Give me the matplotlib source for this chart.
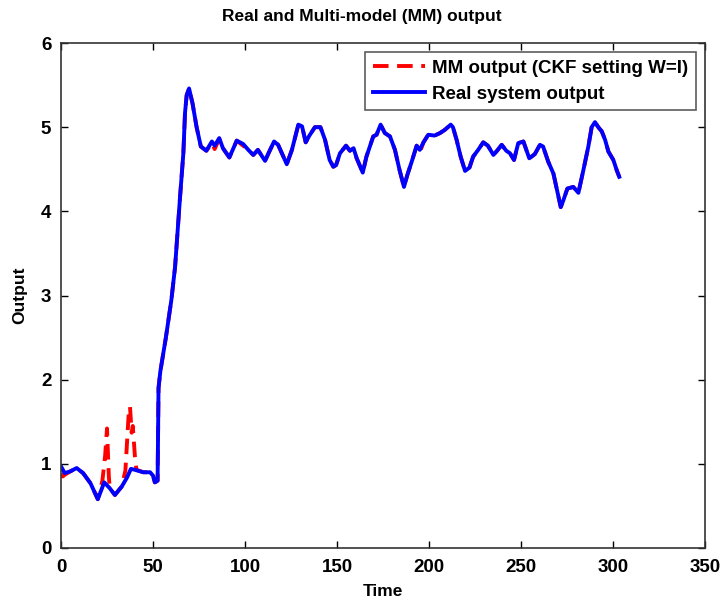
import matplotlib
matplotlib.use("Agg")
import matplotlib.pyplot as plt

# ---- data ----
real_t = [0, 1, 2, 5, 8.5, 12, 16, 20, 23.5, 26.5, 29.3, 33, 35.7, 38, 40, 44.7, 48.4, 50, 51, 52.5,
          53, 54, 57, 60, 62, 64.7, 66.5, 67.4, 68.3, 69.6, 71.5, 73.7, 76, 79, 82, 83.5, 86, 88,
          91.5, 95.5, 99, 101.8, 104.5, 107, 110.9, 113, 115.8, 118, 122.7, 125.5, 129, 131, 133,
          135, 138, 141, 143.5, 146, 148, 149.5, 151.6, 154.9, 157, 159, 160.7, 164, 166, 169.7,
          171.5, 173.7, 176, 178.8, 181.5, 184, 186.4, 188.2, 190.6, 193.3, 195, 197, 199.6, 203,
          206, 208.7, 211.8, 213, 215, 217.2, 219.6, 222, 224, 226.7, 229.5, 232, 235, 237, 239.5,
          242, 244, 246.2, 248.5, 251.3, 254.5, 257.5, 260.3, 262, 264.8, 267.6, 269.4, 271.6,
          273, 275.2, 278.4, 281.2, 283.9, 286.6, 288.4, 290.2, 292, 293.9, 295.7, 297.5, 300.2,
          302, 303.4]
real_y = [0.97, 0.93, 0.89, 0.91, 0.95, 0.89, 0.77, 0.58, 0.78, 0.71, 0.63, 0.73, 0.83, 0.94, 0.93,
          0.90, 0.90, 0.86, 0.78, 0.80,
          1.90, 2.10, 2.50, 2.95, 3.34, 4.17, 4.69, 5.17, 5.38, 5.46, 5.28, 5.00, 4.77, 4.72, 4.83,
          4.78, 4.87, 4.75, 4.64, 4.84, 4.80, 4.73, 4.67, 4.73, 4.60, 4.70, 4.83, 4.79, 4.56, 4.73,
          5.03, 5.01, 4.82, 4.90, 5.00, 5.00, 4.85, 4.61, 4.53, 4.55, 4.69, 4.78, 4.72, 4.75, 4.63,
          4.46, 4.65, 4.89, 4.91, 5.03, 4.93, 4.89, 4.73, 4.49, 4.29, 4.43, 4.59, 4.78, 4.73, 4.82,
          4.91, 4.90, 4.93, 4.97, 5.03, 5.00, 4.85, 4.65, 4.48, 4.52, 4.65, 4.73, 4.82, 4.78, 4.67,
          4.72, 4.79, 4.72, 4.69, 4.61, 4.81, 4.83, 4.63, 4.68, 4.79, 4.77, 4.59, 4.45, 4.27, 4.05,
          4.13, 4.27, 4.29, 4.22, 4.49, 4.77, 5.00, 5.06, 5.00, 4.95, 4.85, 4.71, 4.61, 4.49, 4.41]

mm_t = [0, 1, 2, 5, 8.5, 12, 16, 20, 22.5, 24, 25, 26, 26.5, 29.3, 33, 35, 36.8, 37.5, 38.4, 39,
        40.2, 41, 44.7, 48.4, 50, 51, 52.5,
        53, 54, 57, 60, 62, 64.7, 66.5, 67.4, 68.3, 69.6, 71.5, 73.7, 76, 79, 82, 83.5, 86, 88,
        91.5, 95.5, 99, 101.8, 104.5, 107, 110.9, 113, 115.8, 118, 122.7, 125.5, 129, 131, 133,
        135, 138, 141, 143.5, 146, 148, 149.5, 151.6, 154.9, 157, 159, 160.7, 164, 166, 169.7,
        171.5, 173.7, 176, 178.8, 181.5, 184, 186.4, 188.2, 190.6, 193.3, 195, 197, 199.6, 203,
        206, 208.7, 211.8, 213, 215, 217.2, 219.6, 222, 224, 226.7, 229.5, 232, 235, 237, 239.5,
        242, 244, 246.2, 248.5, 251.3, 254.5, 257.5, 260.3, 262, 264.8, 267.6, 269.4, 271.6,
        273, 275.2, 278.4, 281.2, 283.9, 286.6, 288.4, 290.2, 292, 293.9, 295.7, 297.5, 300.2,
        302, 303.4]
mm_y = [0.88, 0.85, 0.87, 0.91, 0.95, 0.89, 0.77, 0.58, 0.80, 1.10, 1.42, 0.85, 0.71, 0.63, 0.73,
        0.92, 1.60, 1.68, 1.37, 1.45, 1.08, 0.93, 0.90, 0.90, 0.86, 0.78, 0.80,
        1.90, 2.10, 2.50, 2.95, 3.34, 4.17, 4.69, 5.17, 5.38, 5.46, 5.28, 5.00, 4.77, 4.72, 4.81,
        4.74, 4.86, 4.75, 4.64, 4.84, 4.78, 4.73, 4.67, 4.73, 4.60, 4.70, 4.83, 4.79, 4.56, 4.73,
        5.03, 5.01, 4.82, 4.90, 5.00, 5.00, 4.85, 4.61, 4.53, 4.55, 4.69, 4.78, 4.72, 4.75, 4.63,
        4.46, 4.65, 4.89, 4.91, 5.03, 4.93, 4.89, 4.73, 4.49, 4.29, 4.43, 4.59, 4.78, 4.70, 4.82,
        4.91, 4.90, 4.93, 4.97, 5.03, 5.00, 4.85, 4.65, 4.48, 4.52, 4.65, 4.73, 4.82, 4.78, 4.67,
        4.72, 4.79, 4.72, 4.69, 4.61, 4.81, 4.83, 4.63, 4.68, 4.79, 4.77, 4.59, 4.45, 4.27, 4.05,
        4.13, 4.27, 4.29, 4.22, 4.49, 4.77, 5.00, 5.06, 5.00, 4.95, 4.85, 4.71, 4.61, 4.49, 4.41]

x_ticks = [0, 50, 100, 150, 200, 250, 300, 350]
y_ticks = [0, 1, 2, 3, 4, 5, 6]
title = "Real and Multi-model (MM) output"
xlabel = "Time"
ylabel = "Output"
labels = ["MM output (CKF setting W=I)", "Real system output"]

# ---- style ----
plt.rcParams["font.family"] = ["Liberation Sans", "DejaVu Sans"]
plt.rcParams["font.weight"] = "bold"

fig = plt.figure(figsize=(7.21, 6.02), dpi=100)
ax = fig.add_axes([61 / 721, 1 - 548 / 602, 644 / 721, 505 / 602])

ax.plot(mm_t, mm_y, color="#ff0000", linestyle=(0, (4, 2.2)), linewidth=2.8, label=labels[0])
ax.plot(real_t, real_y, color="#0000ff", linewidth=2.8, label=labels[1])

ax.set_xlim(0, 350)
ax.set_ylim(0, 6)
ax.set_xticks(x_ticks)
ax.set_yticks(y_ticks)
ax.tick_params(axis="x", direction="in", length=5, width=1, top=True, labelsize=13.5, pad=8)
ax.tick_params(axis="y", direction="in", length=5, width=1, right=True, labelsize=13.5, pad=7)
for lab in ax.get_xticklabels() + ax.get_yticklabels():
    lab.set_fontweight("bold")
for s in ax.spines.values():
    s.set_linewidth(1.2)
    s.set_color("#333333")

ax.set_title(title, fontsize=12.5, fontweight="bold", pad=16, x=(362 - 61) / 644)
ax.set_xlabel(xlabel, fontsize=12.5, fontweight="bold", labelpad=6)
ax.set_ylabel(ylabel, fontsize=12.5, fontweight="bold", labelpad=10)

leg = ax.legend(loc="upper right", fontsize=13.5, frameon=True, fancybox=False,
                edgecolor="#333333", borderaxespad=0.5, handlelength=2.8,
                borderpad=0.4, labelspacing=0.45, handletextpad=0.35)
leg.get_frame().set_linewidth(1.2)
for t in leg.get_texts():
    t.set_fontweight("bold")

fig.savefig("out.png", dpi=100)
